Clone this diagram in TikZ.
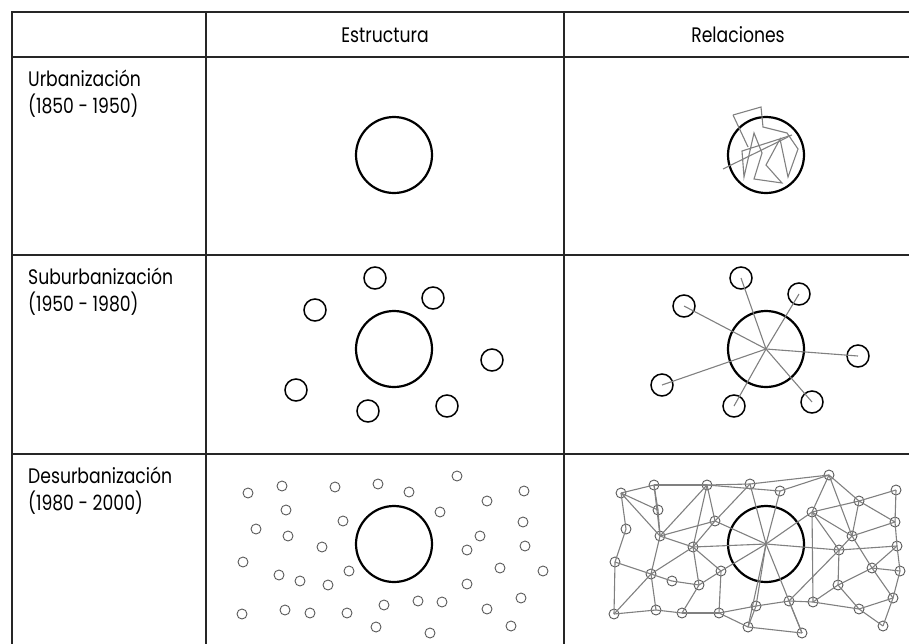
\documentclass[tikz,border=0pt]{standalone}
\usepackage{fontspec}
\setmainfont{Poppins}[FakeStretch=0.82]
\usetikzlibrary{positioning}

\tikzset{
  grid line/.style={line width=1.6pt, black!85},
  big town/.style={circle, draw, line width=2.2pt, minimum size=76pt, inner sep=0pt},
  sat town/.style={circle, draw, line width=1.5pt, minimum size=22pt, inner sep=0pt},
  dot town/.style={circle, draw=black!65, line width=0.9pt, minimum size=10pt, inner sep=0pt},
  link/.style={draw=black!50, line width=1.1pt},
  celltext/.style={anchor=base west, inner sep=0pt, font=\fontsize{21}{24}\selectfont},
  headtext/.style={anchor=base, inner sep=0pt, font=\fontsize{21}{24}\selectfont},
}

\begin{document}
\begin{tikzpicture}[x=1pt,y=-1pt]
  \useasboundingbox (0,0) rectangle (909,643);

  % table
  \draw[grid line] (12,660) -- (12,12) -- (920,12);
  \draw[grid line] (12,57) -- (920,57);
  \draw[grid line] (12,255) -- (920,255);
  \draw[grid line] (12,454) -- (920,454);
  \draw[grid line] (206,12) -- (206,660);
  \draw[grid line] (564,12) -- (564,660);

  % headers
  \node[headtext] (hestr) at (385,42) {Estructura};
  \node[headtext] (hrel) at (738,42) {Relaciones};

  \node[celltext] (urb) at (28,86) {Urbanización};
  \node[celltext] (urbyr) at (28,113) {(1850 - 1950)};
  \node[celltext] (sub) at (28,284) {Suburbanización};
  \node[celltext] (subyr) at (28,311) {(1950 - 1980)};
  \node[celltext] (des) at (28,483) {Desurbanización};
  \node[celltext] (desyr) at (28,510) {(1980 - 2000)};

  % row 1
  \node[big town] (u1) at (394,155) {};
  \node[big town] (u2) at (766,155) {};
  \draw[link, shift={(u2.center)}] (-33,-40) -- (-5,-48) -- (-3,-28) -- (21,-22) -- (32,-6)
    -- (22,22) -- (14,-16) -- (0,10) -- (16,28) -- (-12,24) -- (-4,-2) -- (-12,-22)
    -- (-22,22) -- (-24,-4) -- (26,-20);
  \draw[link, shift={(u2.center)}] (-43,14) -- (22,-18);
  \draw[link, shift={(u2.center)}] (-33,-40) -- (-18,-8);

  % row 2
  \node[big town] (c0) at (394,349) {};
  \foreach \i/\x/\y in {1/375/278, 2/433/298, 3/315/310, 4/492/360, 5/296/390, 6/368/411, 7/447/406}
    \node[sat town] (c\i) at (\x,\y) {};

  \node[big town] (k0) at (766,349) {};
  \foreach \i/\x/\y in {1/741/278, 2/799/294, 3/684/306, 4/858/356, 5/662/385, 6/734/406, 7/812/402}
  {
    \node[sat town] (k\i) at (\x,\y) {};
    \draw[link] (k0.center) -- (k\i.center);
  }

  % row 3
  \node[big town] (s0) at (394,544) {};
  \foreach \i/\x/\y in {1/248/493, 2/282/486, 3/335/487, 4/378/484, 5/409/492, 6/457/476,
      7/524/491, 8/487/501, 9/286/510, 10/440/512, 11/343/521, 12/256/529, 13/288/536,
      14/523/522, 15/480/536, 16/322/547, 17/525/546, 18/467/550, 19/243/562, 20/349/571,
      21/279/575, 22/300/581, 23/328/585, 24/500/568, 25/543/571, 26/467/584, 27/521/598,
      28/242/614, 29/285/610, 30/310/613, 31/347/613, 32/384/605, 33/418/601, 34/442/602,
      35/487/609, 36/511/626, 37/376/627, 38/430/633}
    \node[dot town] (s\i) at (\x,\y) {};

  \node[big town] (r0) at (766,544) {};
  \foreach \i/\x/\y in {1/621/493, 2/654/485, 3/707/485, 4/750/484, 5/780/491, 6/829/475,
      7/896/490, 8/859/501, 9/658/510, 10/812/512, 11/715/521, 12/626/529, 13/660/536,
      14/895/522, 15/852/536, 16/693/547, 17/897/546, 18/839/550, 19/615/562, 20/721/571,
      21/651/574, 22/672/581, 23/699/585, 24/872/568, 25/900/571, 26/838/585, 27/893/598,
      28/614/614, 29/656/610, 30/682/613, 31/719/613, 32/756/606, 33/789/601, 34/813/602,
      35/859/609, 36/883/626, 37/748/627, 38/802/633}
    \node[dot town] (r\i) at (\x,\y) {};

  \foreach \a/\b in {0/4, 0/5, 0/10, 0/11, 0/16, 0/18, 0/20, 0/32, 0/37, 0/38,
      1/2, 2/3, 3/4, 4/6, 1/12, 1/13, 1/9, 2/9, 2/13, 3/11, 3/13, 3/16, 3/5, 4/11,
      5/6, 6/10, 6/8, 6/15, 7/8, 7/14, 8/14, 8/15, 8/10, 10/15, 10/18, 10/34,
      14/17, 14/15, 15/18, 15/24, 16/13, 12/19, 9/13, 11/13, 11/16, 16/21, 16/23,
      16/20, 17/18, 17/24, 17/25, 18/26, 18/33, 19/21, 19/28, 21/22, 21/28, 21/29,
      21/13, 22/23, 23/30, 20/23, 20/31, 24/25, 24/27, 24/26, 25/27, 27/36, 27/35,
      28/29, 29/30, 30/31, 31/37, 32/37, 32/33, 33/34, 33/38, 34/35, 34/26, 35/36,
      35/26, 37/38, 31/32}
    \draw[link] (r\a.center) -- (r\b.center);
\end{tikzpicture}
\end{document}
